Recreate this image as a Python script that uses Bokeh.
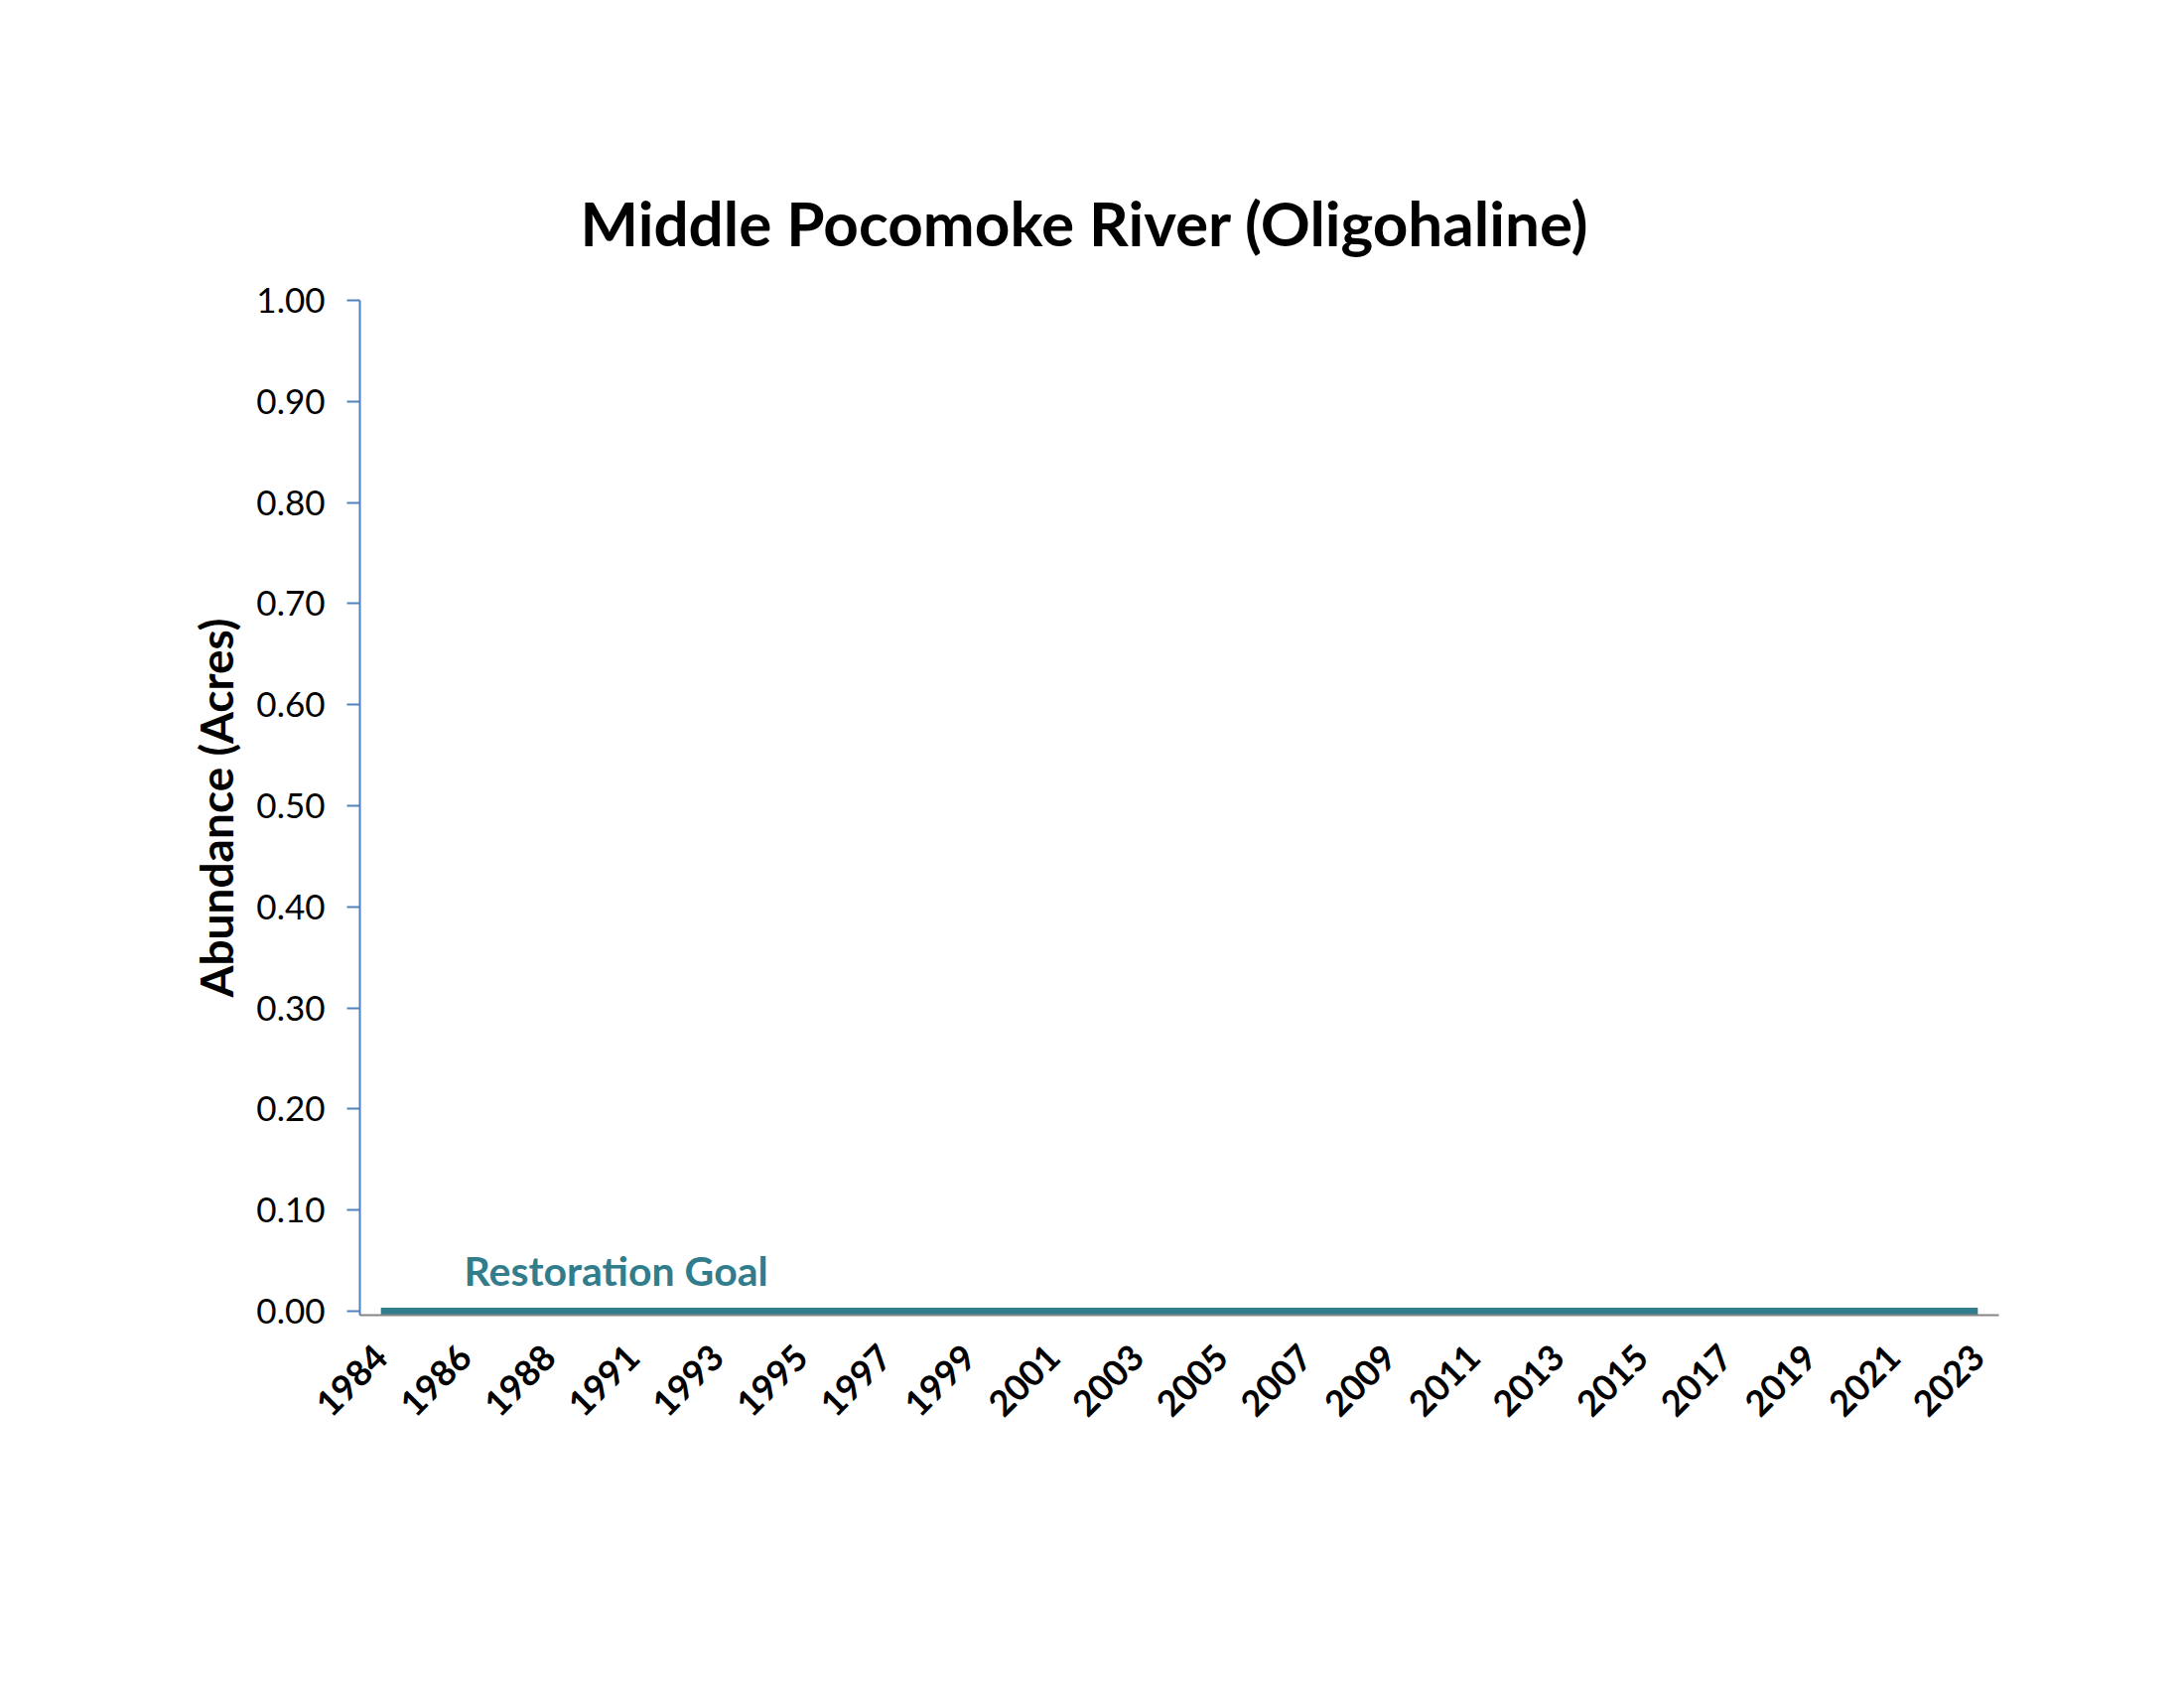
import numpy as np
from bokeh.plotting import figure
from bokeh.models import ColumnDataSource, FixedTicker, Range1d, Label, Title
from bokeh.embed import file_html
from bokeh.resources import INLINE

# ---- data ----
years = ["1984", "1985", "1986", "1987", "1988", "1990"] + [str(y) for y in range(1991, 2024)]
abundance = [0.0] * len(years)
goal = [0.0] * len(years)
y_ticks = [0.0, 0.1, 0.2, 0.3, 0.4, 0.5, 0.6, 0.7, 0.8, 0.9, 1.0]
title_text = "Middle Pocomoke River (Oligohaline)"
y_label = "Abundance (Acres)"
goal_label = "Restoration Goal"

FONT = "Lato"
TEAL = "#327D8C"

n = len(years)
idx = list(range(n))
src = ColumnDataSource(dict(x=idx, year=years, abundance=abundance, goal=goal))

W, H = 2200, 1700
left, right, top, bottom = 362, 2013, 302, 1324

p = figure(width=W, height=H, output_backend="svg", toolbar_location=None,
           x_range=Range1d(-0.5, n - 0.5), y_range=Range1d(-0.004, 1.0),
           min_border_left=left, min_border_right=W - right,
           min_border_top=top, min_border_bottom=H - bottom)
p.outline_line_color = None
p.grid.grid_line_color = None
p.background_fill_color = "white"
p.border_fill_color = "white"

# title
p.title = Title(text=title_text, align="left", offset=222, vertical_align="bottom",
                standoff=84, text_font=FONT, text_font_style="bold",
                text_font_size="62px", text_color="black")

# bars (all zero)
p.vbar(x="x", top="abundance", width=0.6, source=src, fill_color="#4F81BD", line_color=None)
# goal line
p.line(x="x", y="goal", source=src, line_color=TEAL, line_width=7)

# x axis
xa = p.xaxis[0]
xa.ticker = FixedTicker(ticks=idx[::2])
xa.major_label_overrides = {i: years[i] for i in idx}
xa.major_label_orientation = np.pi / 4
xa.major_tick_line_color = None
xa.minor_tick_line_color = None
xa.axis_line_color = "#868686"
xa.axis_line_width = 2
xa.major_label_text_font = FONT
xa.major_label_text_font_style = "bold"
xa.major_label_text_font_size = "36px"
xa.major_label_text_color = "black"
xa.major_label_standoff = 30

# y axis
ya = p.yaxis[0]
ya.ticker = FixedTicker(ticks=y_ticks)
ya.major_label_overrides = {t: f"{t:.2f}" for t in y_ticks}
ya.minor_tick_line_color = None
ya.axis_line_color = "#4F81BD"
ya.axis_line_width = 2
ya.major_tick_line_color = "#4F81BD"
ya.major_tick_line_width = 2
ya.major_tick_in = 0
ya.major_tick_out = 13
ya.major_label_text_font = FONT
ya.major_label_text_font_size = "35px"
ya.major_label_text_color = "black"
ya.major_label_standoff = 22
ya.axis_label = y_label
ya.axis_label_text_font = FONT
ya.axis_label_text_font_style = "bold"
ya.axis_label_text_font_size = "46px"
ya.axis_label_text_color = "black"
ya.axis_label_standoff = 10

# goal label
p.add_layout(Label(x=467 - left, y=21, x_units="screen", y_units="screen",
                   text=goal_label, text_align="left", text_baseline="bottom",
                   text_font=FONT, text_font_style="bold", text_font_size="41px",
                   text_color=TEAL))

open("out.html", "w").write(file_html(p, INLINE))
